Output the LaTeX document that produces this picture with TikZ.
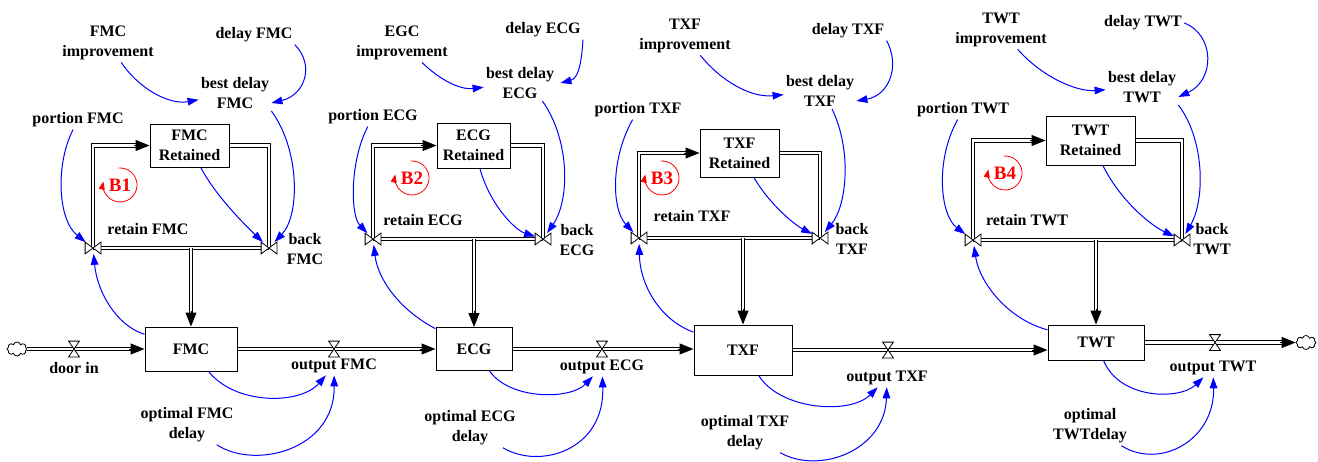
\documentclass[tikz,border=0pt]{standalone}
\usepackage{fontspec}
\setmainfont{Liberation Serif}
\usetikzlibrary{arrows.meta,shapes.symbols,calc}

% label font: bold serif
\newcommand\lblfont{\fontsize{8}{10}\selectfont\bfseries}
% valve outlines drawn on a named (empty) node
\newcommand\hgdraw[1]{\draw[valveline] (#1.north west) -- (#1.north east) -- (#1.south west) -- (#1.south east) -- cycle;}
\newcommand\btdraw[1]{\draw[valveline] (#1.north west) -- (#1.south west) -- (#1.north east) -- (#1.south east) -- cycle;}

\tikzset{
  lbl/.style={font=\lblfont, align=center, inner sep=1pt, text=black},
  stock/.style={draw=black, line width=0.5pt, fill=white, font=\lblfont, align=center, inner sep=1pt},
  pipe/.style={draw=black, line width=0.5pt, double=white, double distance=1.4pt},
  ftip/.style={-{Triangle[length=7pt,width=5.5pt]}, line width=0.5pt, black},
  link/.style={blue, line width=0.5pt, -{Triangle[length=5.5pt,width=3.8pt]}},
  valveline/.style={draw=black, fill=white, line width=0.4pt},
  hgvalve/.style={inner sep=0pt, minimum width=5pt, minimum height=7.5pt},
  btvalve/.style={inner sep=0pt, minimum width=7.5pt, minimum height=5.5pt},
  loopname/.style={font=\fontsize{9.5}{11}\selectfont\bfseries, text=red, inner sep=0pt},
  loopline/.style={red, line width=0.4pt, -{Triangle[length=4pt,width=3pt]}},
  sink/.style={draw=black, line width=0.4pt, fill=white, cloud, cloud puffs=8, aspect=1.4, minimum width=10pt, minimum height=7pt, inner sep=0pt},
}

\begin{document}
\begin{tikzpicture}[x=0.5pt, y=-0.5pt]
\fill[white] (0,0) rectangle (1318,461);
\useasboundingbox (0,0) rectangle (1318,461);

% ---------------- stocks ----------------
\node[stock, minimum width=39.5pt, minimum height=21.5pt] (rFMC) at (189.5,145.5) {FMC\\Retained};
\node[stock, minimum width=36.5pt, minimum height=22.5pt] (rECG) at (473.5,145.5) {ECG\\Retained};
\node[stock, minimum width=39.5pt, minimum height=24pt] (rTXF) at (739.5,153) {TXF\\Retained};
\node[stock, minimum width=44.5pt, minimum height=24.5pt] (rTWT) at (1090.5,140.5) {TWT\\Retained};

\node[stock, minimum width=46pt, minimum height=22pt] (FMC) at (191,349) {FMC};
\node[stock, minimum width=38pt, minimum height=21.5pt] (ECG) at (474,349) {ECG};
\node[stock, minimum width=49pt, minimum height=25pt] (TXF) at (743,350) {TXF};
\node[stock, minimum width=48pt, minimum height=17.5pt] (TWT) at (1096,342.5) {TWT};

\node[sink] (src) at (17,349) {};
\node[sink] (snk) at (1306,342.5) {};

% ---------------- valves ----------------
\node[btvalve] (vRetFMC) at (93,248) {};
\node[btvalve] (vBackFMC) at (269,248) {};
\node[btvalve] (vRetECG) at (373,239) {};
\node[btvalve] (vBackECG) at (543,239) {};
\node[btvalve] (vRetTXF) at (639,238) {};
\node[btvalve] (vBackTXF) at (820,238) {};
\node[btvalve] (vRetTWT) at (973,240) {};
\node[btvalve] (vBackTWT) at (1182,240) {};

\node[hgvalve] (vDoor) at (74,349) {};
\node[hgvalve] (vOutFMC) at (334,349) {};
\node[hgvalve] (vOutECG) at (602,349) {};
\node[hgvalve] (vOutTXF) at (888,350) {};
\node[hgvalve] (vOutTWT) at (1215,342.5) {};

\coordinate (jFMC) at (FMC.north |- vRetFMC.center);
\coordinate (jECG) at (ECG.north |- vRetECG.center);
\coordinate (jTXF) at (TXF.north |- vRetTXF.center);
\coordinate (jTWT) at (TWT.north |- vRetTWT.center);

% ---------------- pipes ----------------
\foreach \r/\s/\a/\b/\j in {rFMC/FMC/vRetFMC/vBackFMC/jFMC, rECG/ECG/vRetECG/vBackECG/jECG,
                          rTXF/TXF/vRetTXF/vBackTXF/jTXF, rTWT/TWT/vRetTWT/vBackTWT/jTWT}{
  \draw[pipe] (\a.center) -- (\b.center);
  \draw[pipe] (\a.center) |- ([xshift=-5pt]\r.west);
  \draw[ftip] ([xshift=-8pt]\r.west) -- (\r.west);
  \draw[pipe] (\r.east) -| (\b.center);
  \draw[pipe] (\j) -- ([yshift=5pt]\s.north);
  \draw[ftip] ([yshift=8pt]\s.north) -- (\s.north);
}

\draw[pipe] (src.east) -- ([xshift=-5pt]FMC.west);
\draw[ftip] ([xshift=-8pt]FMC.west) -- (FMC.west);
\draw[pipe] (FMC.east) -- ([xshift=-5pt]FMC.east -| ECG.west);
\draw[ftip] ([xshift=-8pt]FMC.east -| ECG.west) -- (FMC.east -| ECG.west);
\draw[pipe] (ECG.east) -- ([xshift=-5pt]ECG.east -| TXF.west);
\draw[ftip] ([xshift=-8pt]ECG.east -| TXF.west) -- (ECG.east -| TXF.west);
\draw[pipe] (TXF.east) -- ([xshift=-5pt]TXF.east -| TWT.west);
\draw[ftip] ([xshift=-8pt]TXF.east -| TWT.west) -- (TXF.east -| TWT.west);
\draw[pipe] (TWT.east) -- ([xshift=-5pt]snk.west);
\draw[ftip] ([xshift=-8pt]snk.west) -- (snk.west);

\foreach \v in {vRetFMC,vBackFMC,vRetECG,vBackECG,vRetTXF,vBackTXF,vRetTWT,vBackTWT}{\btdraw{\v}}
\foreach \v in {vDoor,vOutFMC,vOutECG,vOutTXF,vOutTWT}{\hgdraw{\v}}

% ---------------- labels ----------------
\node[lbl] (impFMC) at (108,43) {FMC\\improvement};
\node[lbl] (delayFMC) at (254,35) {delay FMC};
\node[lbl] (bestFMC) at (235,93) {best delay\\FMC};
\node[lbl] (portFMC) at (78,120) {portion FMC};
\node[lbl] (retainFMC) at (148,229) {retain FMC};
\node[lbl] (backFMC) at (305,249) {back\\FMC};
\node[lbl] (doorin) at (74,368) {door in};
\node[lbl] (outFMC) at (334,366) {output FMC};
\node[lbl] (optFMC) at (187,425) {optimal FMC\\delay};

\node[lbl] (impECG) at (402,43) {EGC\\improvement};
\node[lbl] (delayECG) at (543,30) {delay ECG};
\node[lbl] (bestECG) at (520,83) {best delay\\ECG};
\node[lbl] (portECG) at (373,117) {portion ECG};
\node[lbl] (retainECG) at (423,220) {retain ECG};
\node[lbl] (backECG) at (577,240) {back\\ECG};
\node[lbl] (outECG) at (602,367) {output ECG};
\node[lbl] (optECG) at (470,428) {optimal ECG\\delay};

\node[lbl] (impTXF) at (685,36) {TXF\\improvement};
\node[lbl] (delayTXF) at (848,31) {delay TXF};
\node[lbl] (bestTXF) at (820,91) {best delay\\TXF};
\node[lbl] (portTXF) at (638,110) {portion TXF};
\node[lbl] (retainTXF) at (692,216) {retain TXF};
\node[lbl] (backTXF) at (852,239) {back\\TXF};
\node[lbl] (outTXF) at (887,378) {output TXF};
\node[lbl] (optTXF) at (745,433) {optimal TXF\\delay};

\node[lbl] (impTWT) at (1001,30) {TWT\\improvement};
\node[lbl] (delayTWT) at (1143,23) {delay TWT};
\node[lbl] (bestTWT) at (1142,87) {best delay\\TWT};
\node[lbl] (portTWT) at (963,110) {portion TWT};
\node[lbl] (retainTWT) at (1027,220) {retain TWT};
\node[lbl] (backTWT) at (1212,239) {back\\TWT};
\node[lbl] (outTWT) at (1213,368) {output TWT};
\node[lbl] (optTWT) at (1090,426) {optimal\\TWTdelay};

% ---------------- loop markers ----------------
\foreach \n/\t/\x/\y in {B1/B1/120/185, B2/B2/412/178, B3/B3/662/178, B4/B4/1005/173}{
  \node[loopname] (\n) at (\x,\y) {\t};
  \draw[loopline] ([shift={(95:8.5pt)}]\n.center) arc[start angle=95, end angle=-192, radius=8.5pt];
}

% ---------------- information links ----------------
% FMC
\draw[link] (impFMC) .. controls (140,90) and (170,105) .. (bestFMC);
\draw[link] (delayFMC.south east) .. controls (315,65) and (305,95) .. ([yshift=-5pt]bestFMC.east);
\draw[link] (bestFMC.south east) .. controls (300,150) and (300,215) .. (vBackFMC);
\draw[link] (rFMC) .. controls (215,195) and (245,225) .. (vBackFMC);
\draw[link] (portFMC) .. controls (55,165) and (58,220) .. (vRetFMC);
\draw[link] (FMC) .. controls (115,325) and (97,290) .. (vRetFMC);
\draw[link] (FMC) .. controls (235,405) and (300,405) .. (outFMC);
\draw[link] (optFMC) .. controls (255,470) and (335,450) .. (outFMC);
% ECG
\draw[link] (impECG) .. controls (440,80) and (460,90) .. (bestECG);
\draw[link] (delayECG.south east) .. controls (582,55) and (580,78) .. ([xshift=2pt]bestECG.east);
\draw[link] ([xshift=-7pt]bestECG.south east) .. controls (570,140) and (570,200) .. (vBackECG);
\draw[link] (rECG) .. controls (490,205) and (515,230) .. (vBackECG);
\draw[link] (portECG) .. controls (350,160) and (350,215) .. (vRetECG);
\draw[link] (ECG) .. controls (400,310) and (378,280) .. (vRetECG);
\draw[link] (ECG) .. controls (510,400) and (570,400) .. (outECG);
\draw[link] (optECG) .. controls (540,470) and (605,450) .. (outECG);
% TXF
\draw[link] (impTXF) .. controls (720,80) and (750,98) .. (bestTXF);
\draw[link] (delayTXF.south east) .. controls (900,65) and (890,95) .. ([yshift=-5pt]bestTXF.east);
\draw[link] ([xshift=6pt]bestTXF.south) .. controls (852,150) and (847,205) .. (vBackTXF);
\draw[link] (rTXF) .. controls (770,205) and (795,225) .. (vBackTXF);
\draw[link] (portTXF) .. controls (610,160) and (612,210) .. (vRetTXF);
\draw[link] (TXF) .. controls (660,320) and (640,285) .. (vRetTXF);
\draw[link] (TXF) .. controls (780,410) and (850,415) .. (outTXF);
\draw[link] (optTXF) .. controls (820,475) and (885,450) .. (outTXF);
% TWT
\draw[link] (impTWT) .. controls (1040,75) and (1075,92) .. (bestTWT);
\draw[link] (delayTWT.east) .. controls (1215,35) and (1215,80) .. ([yshift=-5pt]bestTWT.east);
\draw[link] (bestTWT.south east) .. controls (1205,140) and (1205,200) .. (vBackTWT);
\draw[link] (rTWT) .. controls (1120,200) and (1150,225) .. (vBackTWT);
\draw[link] (portTWT) .. controls (935,160) and (940,215) .. (vRetTWT);
\draw[link] (TWT) .. controls (1010,320) and (980,285) .. (vRetTWT);
\draw[link] (TWT) .. controls (1120,400) and (1180,400) .. (outTWT);
\draw[link] (optTWT) .. controls (1160,470) and (1215,440) .. (outTWT);
\end{tikzpicture}
\end{document}
